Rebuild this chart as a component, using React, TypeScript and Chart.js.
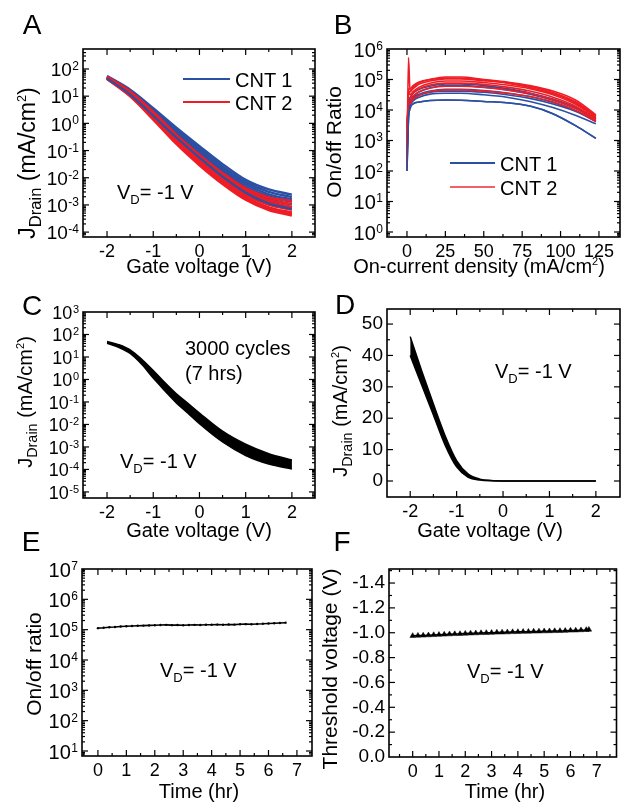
import React, { useEffect, useRef } from 'react';
import { Chart, registerables } from 'chart.js';

Chart.register(...registerables);

const FONT = '"Liberation Sans", Arial, Helvetica, sans-serif';
const BLUE = '#2B4FA2';
const RED = '#EE1D25';

// ---------- Panel A : J_Drain vs gate voltage (log10 of mA/cm2) ----------
const gateA = [-2, -1.5, -1, -0.5, 0, 0.5, 1, 1.5, 2];
const cnt1LogJ = [
  [1.74, 1.24, 0.56, -0.16, -0.84, -1.5, -2.08, -2.43, -2.62],
  [1.72, 1.21, 0.51, -0.23, -0.92, -1.59, -2.16, -2.52, -2.71],
  [1.71, 1.18, 0.46, -0.29, -0.99, -1.67, -2.24, -2.61, -2.8],
  [1.69, 1.15, 0.41, -0.35, -1.06, -1.74, -2.32, -2.69, -2.89],
  [1.68, 1.12, 0.37, -0.41, -1.13, -1.82, -2.4, -2.78, -2.99],
  [1.66, 1.09, 0.32, -0.47, -1.2, -1.9, -2.48, -2.87, -3.08],
  [1.65, 1.06, 0.28, -0.52, -1.26, -1.96, -2.55, -2.95, -3.15],
];
const cnt2LogJ = [
  [1.72, 1.17, 0.42, -0.42, -1.16, -1.83, -2.39, -2.72, -2.86],
  [1.7, 1.14, 0.37, -0.48, -1.23, -1.91, -2.47, -2.82, -2.97],
  [1.68, 1.11, 0.32, -0.54, -1.3, -1.99, -2.55, -2.91, -3.08],
  [1.67, 1.08, 0.27, -0.6, -1.37, -2.06, -2.63, -3.0, -3.18],
  [1.65, 1.05, 0.22, -0.66, -1.44, -2.13, -2.71, -3.09, -3.28],
  [1.64, 1.02, 0.18, -0.71, -1.49, -2.18, -2.76, -3.13, -3.33],
  [1.63, 0.99, 0.14, -0.76, -1.54, -2.23, -2.81, -3.19, -3.39],
];
const gateTicks = [-2, -1, 0, 1, 2];
const gateMinor = [-2.5, -1.5, -0.5, 0.5, 1.5, 2.5];
const expA = [-4, -3, -2, -1, 0, 1, 2];

// ---------- Panel B : on/off ratio vs on-current density (log10) ----------
const densB = [0, 1, 2, 4, 8, 15, 25, 35, 50, 65, 80, 95, 110, 123];
const cnt1LogRatio = [
  [2.6, 4.0, 4.2, 4.35, 4.48, 4.58, 4.62, 4.62, 4.58, 4.5, 4.38, 4.2, 3.95, 3.62],
  [2.2, 3.9, 4.15, 4.3, 4.42, 4.52, 4.55, 4.55, 4.5, 4.42, 4.28, 4.08, 3.82, 3.55],
  [3.0, 4.1, 4.3, 4.45, 4.6, 4.72, 4.8, 4.8, 4.75, 4.66, 4.52, 4.32, 4.05, 3.7],
  [2.0, 3.7, 4.05, 4.2, 4.26, 4.31, 4.33, 4.32, 4.28, 4.24, 4.13, 3.88, 3.48, 3.07],
  [2.4, 4.0, 4.25, 4.4, 4.52, 4.62, 4.68, 4.68, 4.64, 4.56, 4.44, 4.25, 3.98, 3.64],
  [3.4, 4.2, 4.4, 4.55, 4.68, 4.78, 4.85, 4.85, 4.8, 4.7, 4.56, 4.36, 4.08, 3.72],
];
const cnt2LogRatio = [
  [2.1, 5.72, 4.6, 4.75, 4.9, 5.0, 5.08, 5.08, 5.0, 4.92, 4.8, 4.62, 4.32, 3.84],
  [2.5, 4.6, 4.5, 4.6, 4.75, 4.88, 4.95, 4.95, 4.9, 4.82, 4.7, 4.5, 4.18, 3.75],
  [3.0, 4.4, 4.4, 4.55, 4.7, 4.82, 4.88, 4.88, 4.84, 4.75, 4.62, 4.42, 4.12, 3.7],
  [2.8, 4.5, 4.6, 4.7, 4.85, 4.95, 5.02, 5.02, 4.96, 4.88, 4.74, 4.54, 4.22, 3.78],
  [3.5, 4.3, 4.3, 4.45, 4.6, 4.72, 4.78, 4.78, 4.74, 4.66, 4.54, 4.34, 4.05, 3.66],
  [2.3, 4.7, 4.7, 4.8, 4.92, 5.0, 5.05, 5.04, 4.98, 4.9, 4.77, 4.57, 4.26, 3.8],
  [3.2, 4.2, 4.2, 4.35, 4.48, 4.6, 4.66, 4.66, 4.62, 4.55, 4.44, 4.26, 3.98, 3.62],
];
const densTicks = [0, 25, 50, 75, 100, 125];
const densMinor = [-12.5, 12.5, 37.5, 62.5, 87.5, 112.5, 137.5];
const expB = [0, 1, 2, 3, 4, 5, 6];

// ---------- Panel C : 3000 cycles band (log10 of mA/cm2) ----------
const gateC = [-2, -1.75, -1.5, -1.25, -1, -0.75, -0.5, -0.25, 0, 0.5, 1, 1.5, 2];
const cUpperLogJ = [1.69, 1.55, 1.32, 0.9, 0.4, -0.14, -0.64, -1.06, -1.49, -2.3, -2.88, -3.3, -3.58];
const cLowerLogJ = [1.61, 1.43, 1.16, 0.68, 0.06, -0.5, -1.04, -1.5, -1.97, -2.78, -3.38, -3.76, -3.98];
const expC = [-5, -4, -3, -2, -1, 0, 1, 2, 3];

// ---------- Panel D : linear J_Drain band ----------
const gateD = [-2, -1.75, -1.5, -1.25, -1, -0.75, -0.5, -0.25, 0, 0.5, 1, 1.5, 2];
const dUpperJ = [46, 35, 24.5, 14.5, 6.5, 2.2, 0.6, 0.15, 0.03, 0, 0, 0, 0];
const dLowerJ = [40, 30.5, 21, 11.5, 4.5, 1.2, 0.3, 0.05, 0.01, 0, 0, 0, 0];
const jTicksD = [0, 10, 20, 30, 40, 50];
const jMinorD = [-5, 5, 15, 25, 35, 45];

// ---------- Panel E : on/off ratio over time (x 1e5) ----------
const timeE = [0, 0.2, 0.4, 0.6, 0.8, 1, 1.2, 1.4, 1.6, 1.8, 2, 2.2, 2.4, 2.6, 2.8, 3, 3.2, 3.4, 3.6, 3.8, 4, 4.2, 4.4, 4.6, 4.8, 5, 5.2, 5.4, 5.6, 5.8, 6, 6.2, 6.4, 6.6];
const ratioE1e5 = [1.12, 1.15, 1.2, 1.22, 1.27, 1.3, 1.32, 1.35, 1.36, 1.38, 1.4, 1.42, 1.44, 1.41, 1.43, 1.4, 1.42, 1.44, 1.43, 1.45, 1.45, 1.47, 1.46, 1.48, 1.47, 1.5, 1.52, 1.51, 1.54, 1.56, 1.6, 1.63, 1.66, 1.7];
const timeTicks = [0, 1, 2, 3, 4, 5, 6, 7];
const timeMinor = [-0.5, 0.5, 1.5, 2.5, 3.5, 4.5, 5.5, 6.5, 7.5];
const expE = [1, 2, 3, 4, 5, 6, 7];

// ---------- Panel F : threshold voltage over time ----------
const timeF = [0, 0.2, 0.4, 0.6, 0.8, 1, 1.2, 1.4, 1.6, 1.8, 2, 2.2, 2.4, 2.6, 2.8, 3, 3.2, 3.4, 3.6, 3.8, 4, 4.2, 4.4, 4.6, 4.8, 5, 5.2, 5.4, 5.6, 5.8, 6, 6.2, 6.4, 6.6, 6.7];
const vthF = [-0.975, -0.977, -0.978, -0.98, -0.982, -0.984, -0.986, -0.988, -0.99, -0.991, -0.993, -0.995, -0.996, -0.998, -0.999, -1.0, -1.002, -1.003, -1.004, -1.006, -1.007, -1.008, -1.009, -1.01, -1.011, -1.012, -1.013, -1.014, -1.015, -1.016, -1.018, -1.019, -1.021, -1.023, -1.025];
const vthTicks = [0, -0.2, -0.4, -0.6, -0.8, -1.0, -1.2, -1.4];
const vthMinor = [-0.1, -0.3, -0.5, -0.7, -0.9, -1.1, -1.3, -1.5];

// ---------- layout helpers ----------
const PAD_L = 70;
const PAD_T = 20;
const PAD_B = 34;

type Rect = { L: number; T: number; R: number; B: number; padR: number };

const framePlugin = {
  id: 'frame',
  afterDatasetsDraw(chart: any, _args: any, o: any) {
    const { ctx, chartArea: a } = chart;
    const xs = chart.scales.x;
    const ys = chart.scales.y;
    ctx.save();
    ctx.strokeStyle = '#000';
    ctx.fillStyle = '#000';
    const seg = (x1: number, y1: number, x2: number, y2: number) => {
      ctx.beginPath();
      ctx.moveTo(x1, y1);
      ctx.lineTo(x2, y2);
      ctx.stroke();
    };
    ctx.lineWidth = 1.2;
    const xt = (vals: number[], len: number) => {
      for (const v of vals) {
        const p = xs.getPixelForValue(v);
        if (p < a.left + 1 || p > a.right - 1) continue;
        seg(p, a.bottom, p, a.bottom - len);
        seg(p, a.top, p, a.top + len);
      }
    };
    const yt = (vals: number[], len: number) => {
      for (const v of vals) {
        const p = ys.getPixelForValue(v);
        if (p < a.top + 1 || p > a.bottom - 1) continue;
        seg(a.left, p, a.left + len, p);
        seg(a.right, p, a.right - len, p);
      }
    };
    xt(o.xMajor || [], 6);
    xt(o.xMinor || [], 3);
    yt(o.yMajor || [], 6);
    yt(o.yMinor || [], 3);
    if (o.logExps) {
      const exps: number[] = Array.from(o.logExps);
      yt(exps.map((e) => Math.pow(10, e)), 6);
      const lo = Math.floor(Math.log10(ys.min));
      const hi = Math.ceil(Math.log10(ys.max));
      const minor: number[] = [];
      for (let n = lo; n <= hi; n++) for (let k = 2; k <= 9; k++) minor.push(k * Math.pow(10, n));
      yt(minor, 3);
    }
    ctx.lineWidth = 1.6;
    ctx.strokeRect(a.left, a.top, a.right - a.left, a.bottom - a.top);
    if (o.logExps) {
      const main = o.mainSize || 19;
      const supS = o.supSize || 12;
      for (const e of Array.from(o.logExps) as number[]) {
        const y = ys.getPixelForValue(Math.pow(10, e));
        const sup = String(e);
        ctx.font = `${supS}px ${FONT}`;
        const sw = ctx.measureText(sup).width;
        const xr = a.left - 4 - sw;
        ctx.font = `${main}px ${FONT}`;
        ctx.textAlign = 'right';
        ctx.textBaseline = 'middle';
        ctx.fillText('10', xr - 0.5, y + 2);
        ctx.font = `${supS}px ${FONT}`;
        ctx.textAlign = 'left';
        ctx.textBaseline = 'alphabetic';
        ctx.fillText(sup, xr, y + 1);
      }
    }
    ctx.restore();
  },
};

function xScale(min: number, max: number, ticks: number[]) {
  return {
    type: 'linear',
    min,
    max,
    afterBuildTicks: (s: any) => {
      s.ticks = ticks.map((v) => ({ value: v }));
    },
    afterFit: (s: any) => {
      s.height = PAD_B;
    },
    grid: { display: false, drawTicks: false },
    border: { display: false },
    ticks: { color: '#000', font: { family: FONT, size: 18 }, padding: 4 },
  };
}

function logYScale(minExp: number, maxExp: number) {
  return {
    type: 'logarithmic',
    min: Math.pow(10, minExp),
    max: Math.pow(10, maxExp),
    afterFit: (s: any) => {
      s.width = PAD_L;
    },
    grid: { display: false, drawTicks: false },
    border: { display: false },
    ticks: { display: false },
  };
}

function linYScale(min: number, max: number, ticks: number[], size: number, fmt: (v: number) => string, reverse = false) {
  return {
    type: 'linear',
    min,
    max,
    reverse,
    afterBuildTicks: (s: any) => {
      s.ticks = ticks.map((v) => ({ value: v }));
    },
    afterFit: (s: any) => {
      s.width = PAD_L;
    },
    grid: { display: false, drawTicks: false },
    border: { display: false },
    ticks: { color: '#000', font: { family: FONT, size }, padding: 4, callback: (v: any) => fmt(Number(v)) },
  };
}

function baseOptions(rect: Rect, x: any, y: any, frame: any) {
  return {
    responsive: false,
    animation: false,
    events: [],
    layout: { padding: { left: 0, top: PAD_T, right: rect.padR, bottom: 0 } },
    plugins: { legend: { display: false }, tooltip: { enabled: false }, frame },
    elements: { point: { radius: 0 } },
    scales: { x, y },
  };
}

function logLine(xs: number[], logs: number[], color: string, width: number, order = 0) {
  return {
    data: xs.map((x, i) => ({ x, y: Math.pow(10, logs[i]) })),
    borderColor: color,
    borderWidth: width,
    pointRadius: 0,
    cubicInterpolationMode: 'monotone',
    fill: false,
    order,
  };
}

const rectA: Rect = { L: 83, T: 49, R: 315, B: 237, padR: 5 };
const rectB: Rect = { L: 387, T: 49, R: 620, B: 237, padR: 1 };
const rectC: Rect = { L: 83, T: 312, R: 315, B: 498, padR: 5 };
const rectD: Rect = { L: 387, T: 309, R: 620, B: 497, padR: 1 };
const rectE: Rect = { L: 82, T: 569, R: 312, B: 756, padR: 5 };
const rectF: Rect = { L: 389, T: 569, R: 620, B: 757, padR: 1 };

const configA = () => ({
  type: 'line',
  data: {
    datasets: [
      logLine(gateA, cnt1LogJ[6], BLUE, 2.2, -1),
      ...cnt2LogJ.map((c) => logLine(gateA, c, RED, 2.4)),
      ...cnt1LogJ.slice(0, 6).map((c) => logLine(gateA, c, BLUE, 2.4, 1)),
    ],
  },
  options: baseOptions(rectA, xScale(-2.52, 2.5, gateTicks), logYScale(-4.18, 2.735), {
    xMajor: gateTicks,
    xMinor: gateMinor,
    logExps: expA,
    mainSize: 19,
    supSize: 12,
  }),
  plugins: [framePlugin],
});

const configB = () => ({
  type: 'line',
  data: {
    datasets: [
      logLine(densB, cnt1LogRatio[3], BLUE, 1.6, -1),
      ...cnt2LogRatio.map((c) => logLine(densB, c, RED, 1.6)),
      ...cnt1LogRatio.map((c) => logLine(densB, c, BLUE, 1.6, 1)),
    ],
  },
  options: baseOptions(rectB, xScale(-13, 138.7, densTicks), logYScale(-0.164, 6), {
    xMajor: densTicks,
    xMinor: densMinor,
    logExps: expB,
    mainSize: 20,
    supSize: 12,
  }),
  plugins: [framePlugin],
});

const configC = () => ({
  type: 'line',
  data: {
    datasets: [
      { ...logLine(gateC, cUpperLogJ, '#000', 1.5), fill: false },
      { ...logLine(gateC, cLowerLogJ, '#000', 1.5), fill: '-1', backgroundColor: '#000' },
    ],
  },
  options: baseOptions(rectC, xScale(-2.52, 2.5, gateTicks), logYScale(-5.27, 3), {
    xMajor: gateTicks,
    xMinor: gateMinor,
    logExps: expC,
    mainSize: 18,
    supSize: 11,
  }),
  plugins: [framePlugin],
});

const configD = () => ({
  type: 'line',
  data: {
    datasets: [
      { data: gateD.map((x, i) => ({ x, y: dUpperJ[i] })), borderColor: '#000', borderWidth: 1.5, pointRadius: 0, cubicInterpolationMode: 'monotone', fill: false },
      { data: gateD.map((x, i) => ({ x, y: dLowerJ[i] })), borderColor: '#000', borderWidth: 1.5, pointRadius: 0, cubicInterpolationMode: 'monotone', fill: '-1', backgroundColor: '#000' },
    ],
  },
  options: baseOptions(rectD, xScale(-2.5, 2.52, gateTicks), linYScale(-5.1, 54.8, jTicksD, 19, (v) => String(v)), {
    xMajor: gateTicks,
    xMinor: gateMinor,
    yMajor: jTicksD,
    yMinor: jMinorD,
  }),
  plugins: [framePlugin],
});

const configE = () => ({
  type: 'line',
  data: {
    datasets: [
      {
        data: timeE.map((x, i) => ({ x, y: ratioE1e5[i] * 1e5 })),
        borderColor: '#000',
        borderWidth: 1.6,
        pointRadius: 1.2,
        pointBackgroundColor: '#000',
        pointBorderWidth: 0,
        tension: 0,
        fill: false,
      },
    ],
  },
  options: baseOptions(rectE, xScale(-0.56, 7.53, timeTicks), logYScale(0.835, 7), {
    xMajor: timeTicks,
    xMinor: timeMinor,
    logExps: expE,
    mainSize: 20,
    supSize: 12,
  }),
  plugins: [framePlugin],
});

const configF = () => ({
  type: 'line',
  data: {
    datasets: [
      {
        data: timeF.map((x, i) => ({ x, y: vthF[i] })),
        borderColor: '#000',
        borderWidth: 1.5,
        pointStyle: 'triangle',
        pointRadius: 3.2,
        pointBackgroundColor: '#000',
        pointBorderColor: '#000',
        pointBorderWidth: 0.5,
        tension: 0,
        fill: false,
      },
    ],
  },
  options: baseOptions(rectF, xScale(-0.9, 7.75, timeTicks), linYScale(-1.513, 0, vthTicks, 19, (v) => v.toFixed(1), true), {
    xMajor: timeTicks,
    xMinor: timeMinor,
    yMajor: vthTicks,
    yMinor: vthMinor,
  }),
  plugins: [framePlugin],
});

function ChartPanel({ rect, make }: { rect: Rect; make: () => any }) {
  const ref = useRef<HTMLCanvasElement>(null);
  useEffect(() => {
    const chart = new Chart(ref.current as HTMLCanvasElement, make());
    return () => chart.destroy();
  }, []);
  const w = rect.R - rect.L + PAD_L + rect.padR;
  const h = rect.B - rect.T + PAD_T + PAD_B;
  return (
    <canvas
      ref={ref}
      width={w}
      height={h}
      style={{ position: 'absolute', left: rect.L - PAD_L, top: rect.T - PAD_T, width: w, height: h }}
    />
  );
}

function Txt({ x, y, size, children, center = true, rotate = false }: any) {
  const tr = `translate(${center ? '-50%' : '0'}, -50%)${rotate ? ' rotate(-90deg)' : ''}`;
  return (
    <div
      style={{
        position: 'absolute',
        left: x,
        top: y,
        fontSize: size,
        lineHeight: 1,
        whiteSpace: 'nowrap',
        transform: tr,
      }}
    >
      {children}
    </div>
  );
}

const Sub = ({ children, s = '0.68em' }: any) => (
  <span style={{ fontSize: s, position: 'relative', top: '0.38em' }}>{children}</span>
);
const Sup = ({ children, s = '0.55em' }: any) => (
  <span style={{ fontSize: s, position: 'relative', top: '-0.75em' }}>{children}</span>
);

const JTitle = () => (
  <>
    J<Sub s="0.72em">Drain</Sub> (mA/cm<Sup>2</Sup>)
  </>
);
const VD = () => (
  <>
    V<Sub s="0.65em">D</Sub>= -1 V
  </>
);

function LegendLine({ x1, x2, y, color }: any) {
  return <div style={{ position: 'absolute', left: x1, top: y - 1, width: x2 - x1, height: 2, background: color }} />;
}

export default function App() {
  return (
    <div
      style={{
        position: 'absolute',
        left: 0,
        top: 0,
        width: 621,
        height: 809,
        background: '#fff',
        color: '#000',
        fontFamily: FONT,
        overflow: 'hidden',
      }}
    >
      <ChartPanel rect={rectA} make={configA} />
      <ChartPanel rect={rectB} make={configB} />
      <ChartPanel rect={rectC} make={configC} />
      <ChartPanel rect={rectD} make={configD} />
      <ChartPanel rect={rectE} make={configE} />
      <ChartPanel rect={rectF} make={configF} />

      {/* panel letters */}
      <Txt x={32} y={25} size={28}>A</Txt>
      <Txt x={343} y={25} size={28}>B</Txt>
      <Txt x={32} y={306} size={28}>C</Txt>
      <Txt x={345} y={305} size={28}>D</Txt>
      <Txt x={31} y={542} size={28}>E</Txt>
      <Txt x={342} y={542} size={28}>F</Txt>

      {/* x titles */}
      <Txt x={199} y={266} size={20}>Gate voltage (V)</Txt>
      <Txt x={479} y={266} size={20}>
        On-current density (mA/cm<Sup>2</Sup>)
      </Txt>
      <Txt x={199} y={530} size={20}>Gate voltage (V)</Txt>
      <Txt x={490} y={530} size={20}>Gate voltage (V)</Txt>
      <Txt x={199} y={791} size={20}>Time (hr)</Txt>
      <Txt x={505} y={791} size={20}>Time (hr)</Txt>

      {/* y titles */}
      <Txt x={27} y={163} size={23} rotate>
        <JTitle />
      </Txt>
      <Txt x={333} y={142} size={21} rotate>On/off Ratio</Txt>
      <Txt x={25} y={402} size={20} rotate>
        <JTitle />
      </Txt>
      <Txt x={340} y={411} size={20} rotate>
        <JTitle />
      </Txt>
      <Txt x={33} y={664} size={21} rotate>On/off ratio</Txt>
      <Txt x={329} y={669} size={21} rotate>Threshold voltage (V)</Txt>

      {/* annotations */}
      <Txt x={117} y={192} size={20} center={false}>
        <VD />
      </Txt>
      <Txt x={185} y={348} size={20} center={false}>3000 cycles</Txt>
      <Txt x={185} y={373} size={20} center={false}>(7 hrs)</Txt>
      <Txt x={120} y={461} size={20} center={false}>
        <VD />
      </Txt>
      <Txt x={495} y={371} size={20} center={false}>
        <VD />
      </Txt>
      <Txt x={160} y={670} size={20} center={false}>
        <VD />
      </Txt>
      <Txt x={467} y={671} size={20} center={false}>
        <VD />
      </Txt>

      {/* legends */}
      <LegendLine x1={183} x2={230} y={79} color={BLUE} />
      <LegendLine x1={183} x2={230} y={102} color={RED} />
      <Txt x={235} y={80} size={20} center={false}>CNT 1</Txt>
      <Txt x={235} y={103} size={20} center={false}>CNT 2</Txt>
      <LegendLine x1={450} x2={495} y={163} color={BLUE} />
      <LegendLine x1={450} x2={495} y={187} color={'#F0626A'} />
      <Txt x={500} y={164} size={20} center={false}>CNT 1</Txt>
      <Txt x={500} y={188} size={20} center={false}>CNT 2</Txt>
    </div>
  );
}
